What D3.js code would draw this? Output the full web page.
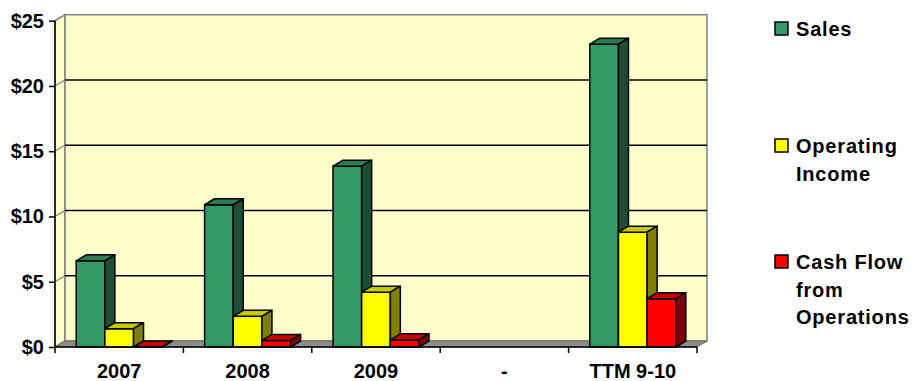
<!DOCTYPE html>
<html lang="en">
<head>
    <meta charset="UTF-8">
    <title>Sales chart</title>
    <script src="https://cdnjs.cloudflare.com/ajax/libs/d3/7.8.5/d3.min.js"></script>
    <style>
        body { margin: 0; background: #fff; }
        text { font-family: "Liberation Sans", Arial, sans-serif; font-weight: bold; fill: #000; }
    </style>
</head>
<body>
    <script>
        // data
        var categories = ["2007", "2008", "2009", "-", "TTM 9-10"];
        var seriesNames = ["Sales", "Operating Income", "Cash Flow from Operations"];
        var sales = [6.6, 10.9, 13.85, null, 23.2];
        var operatingIncome = [1.4, 2.35, 4.2, null, 8.8];
        var cashFlow = [0, 0.5, 0.55, null, 3.7];
        var yTicks = [0, 5, 10, 15, 20, 25];

        var w = 915, h = 381;
        var svg = d3.select("body").append("svg")
            .attr("width", w)
            .attr("height", h);

        // 3d depth offset
        var dx = 10, dy = -6;

        var x = d3.scaleBand().domain(categories).range([55, 697]);
        var xs = d3.scaleBand().domain(seriesNames).range([0, x.bandwidth()]).paddingOuter(0.74);
        var y = d3.scaleLinear().domain([0, 25]).range([347, 20.7]);

        var colors = {
            "Sales": {front: "#339966", top: "#2b7c55", side: "#1e4d36"},
            "Operating Income": {front: "#ffff00", top: "#c8c800", side: "#808000"},
            "Cash Flow from Operations": {front: "#ff0000", top: "#c80000", side: "#800000"}
        };

        var x0 = x.range()[0], x1 = x.range()[1];
        var yb = y(0), yt = y(25);

        // walls
        var walls = svg.append("g");
        walls.append("polygon")
            .attr("points", [[x0, yt], [x0 + dx, yt + dy], [x0 + dx, yb + dy], [x0, yb]].join(" "))
            .attr("fill", "#ffffcc").attr("stroke", "#808080").attr("stroke-width", 1.5);
        walls.append("rect")
            .attr("x", x0 + dx).attr("y", yt + dy)
            .attr("width", x1 - x0).attr("height", yb - yt)
            .attr("fill", "#ffffcc").attr("stroke", "#808080").attr("stroke-width", 1.5);

        // gridlines
        var grid = svg.append("g");
        grid.selectAll("line.g").data(yTicks.slice(1, -1)).enter().append("line")
            .attr("x1", x0 + dx).attr("x2", x1 + dx)
            .attr("y1", function(d) { return y(d) + dy; })
            .attr("y2", function(d) { return y(d) + dy; })
            .attr("stroke", "#000").attr("stroke-width", 1.5);
        grid.selectAll("line.s").data(yTicks.slice(1)).enter().append("line")
            .attr("x1", x0).attr("x2", x0 + dx)
            .attr("y1", function(d) { return y(d); })
            .attr("y2", function(d) { return y(d) + dy; })
            .attr("stroke", "#808080").attr("stroke-width", 1.3);

        // floor
        svg.append("polygon")
            .attr("points", [[x0, yb], [x0 + dx, yb + dy], [x1 + dx, yb + dy], [x1, yb]].join(" "))
            .attr("fill", "#8c8c8c").attr("stroke", "#666").attr("stroke-width", 1);

        // bars
        var bars = [];
        var seriesData = [sales, operatingIncome, cashFlow];
        categories.forEach(function(c, i) {
            seriesNames.forEach(function(s, j) {
                var v = seriesData[j][i];
                if (v !== null) bars.push({cat: c, series: s, value: v});
            });
        });

        var bw = xs.bandwidth();
        var barG = svg.append("g").selectAll("g").data(bars).enter().append("g");
        barG.append("rect")
            .attr("x", function(d) { return x(d.cat) + xs(d.series); })
            .attr("y", function(d) { return y(d.value); })
            .attr("width", bw)
            .attr("height", function(d) { return yb - y(d.value); })
            .attr("fill", function(d) { return colors[d.series].front; })
            .attr("stroke", "#000").attr("stroke-width", 1.5);
        barG.append("polygon")
            .attr("points", function(d) {
                var bx = x(d.cat) + xs(d.series), by = y(d.value);
                return [[bx, by], [bx + dx, by + dy], [bx + bw + dx, by + dy], [bx + bw, by]].join(" ");
            })
            .attr("fill", function(d) { return colors[d.series].top; })
            .attr("stroke", "#000").attr("stroke-width", 1.5).attr("stroke-linejoin", "round");
        barG.append("polygon")
            .attr("points", function(d) {
                var bx = x(d.cat) + xs(d.series) + bw, by = y(d.value);
                return [[bx, by], [bx + dx, by + dy], [bx + dx, yb + dy], [bx, yb]].join(" ");
            })
            .attr("fill", function(d) { return colors[d.series].side; })
            .attr("stroke", "#000").attr("stroke-width", 1.5).attr("stroke-linejoin", "round");

        // y axis
        var yAxis = svg.append("g")
            .attr("transform", "translate(" + x0 + ",0)")
            .call(d3.axisLeft(y).tickValues(yTicks).tickSize(6).tickPadding(5)
                .tickFormat(function(d) { return "$" + d; }));
        yAxis.selectAll("path, line").attr("stroke", "#000").attr("stroke-width", 1.5);
        yAxis.select(".domain").attr("d", "M0," + yt + "V" + yb);
        yAxis.selectAll("text").style("font-size", "20px").style("font-family", "'Liberation Sans', Arial, sans-serif").style("font-weight", "bold");

        // x axis
        var xAxis = svg.append("g")
            .attr("transform", "translate(0," + yb + ")")
            .call(d3.axisBottom(x).tickSize(0).tickPadding(17));
        xAxis.select(".domain").attr("stroke", "#000").attr("stroke-width", 1.5)
            .attr("d", "M" + x0 + ",0H" + x1);
        xAxis.selectAll("text").style("font-size", "20px").style("font-family", "'Liberation Sans', Arial, sans-serif").style("font-weight", "bold");
        xAxis.selectAll("line.b").data(categories.concat(["end"])).enter().append("line")
            .attr("class", "b")
            .attr("x1", function(d, i) { return x0 + i * x.step(); })
            .attr("x2", function(d, i) { return x0 + i * x.step(); })
            .attr("y1", 0).attr("y2", 6)
            .attr("stroke", "#000").attr("stroke-width", 1.5);

        // legend
        var legendRows = [
            {name: "Sales", lines: ["Sales"], y: 36},
            {name: "Operating Income", lines: ["Operating", "Income"], y: 153},
            {name: "Cash Flow from Operations", lines: ["Cash Flow", "from", "Operations"], y: 269}
        ];
        var leg = svg.append("g").selectAll("g").data(legendRows).enter().append("g");
        leg.append("rect")
            .attr("x", 775).attr("y", function(d) { return d.y - 14; })
            .attr("width", 13).attr("height", 13)
            .attr("fill", function(d) { return colors[d.name].front; })
            .attr("stroke", "#000").attr("stroke-width", 1.5);
        leg.append("text")
            .attr("x", 796).attr("y", function(d) { return d.y; })
            .style("font-size", "20px").style("letter-spacing", "0.8px")
            .selectAll("tspan").data(function(d) { return d.lines; }).enter().append("tspan")
            .attr("x", 796).attr("dy", function(d, i) { return i === 0 ? 0 : 27.5; })
            .text(function(d) { return d; });
    </script>
</body>
</html>
